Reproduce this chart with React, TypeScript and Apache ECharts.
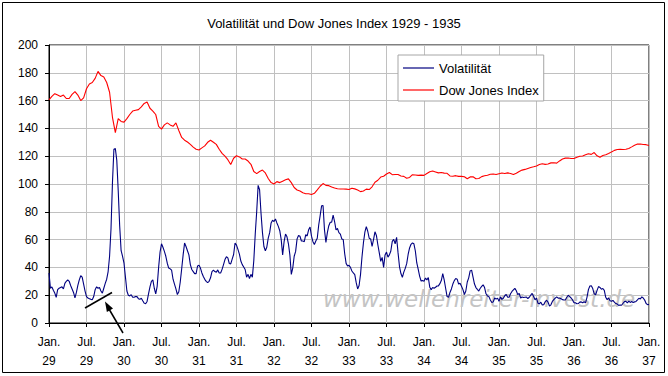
import React, { useEffect, useRef } from "react";
import * as echarts from "echarts";

const TITLE = "Volatilität und Dow Jones Index 1929 - 1935";
const SERIES_NAMES = ["Volatilität", "Dow Jones Index"];
const WATERMARK = "www.wellenreiter-invest.de";

// x-axis tick labels, one per half year (Jan. 1929 .. Jan. 1937)
const X_TICK_LABELS = [
  "Jan.\n29", "Jul.\n29", "Jan.\n30", "Jul.\n30", "Jan.\n31", "Jul.\n31",
  "Jan.\n32", "Jul.\n32", "Jan.\n33", "Jul.\n33", "Jan.\n34", "Jul.\n34",
  "Jan.\n35", "Jul.\n35", "Jan.\n36", "Jul.\n36", "Jan.\n37",
];

// Volatility, weekly readings from Jan. 1929 (26 per half year)
const VOL_PER_HALF_YEAR = 26;
const volatility = [
  36, 25, 26, 23.5, 21.5, 18.5, 24, 25, 25.5, 26,
  24.5, 28.5, 30, 31, 30, 27, 24.5, 22, 18, 22,
  27, 31, 34, 33, 28, 23, 19, 18, 17.5, 17,
  16.8, 19, 24, 26, 25, 25.5, 23, 21.5, 25, 28.5,
  31.5, 37, 48, 68, 101, 125, 125.5, 117, 95, 70,
  52, 48, 43, 33, 23, 20, 19.5, 20.4, 18.5, 18.5,
  19, 19, 17.5, 17, 17.8, 16, 14.3, 13.8, 15.5, 21,
  26, 30, 31, 25, 21, 26.4, 40, 51, 57, 54.5,
  51.5, 48, 43, 39.5, 39, 38, 31.5, 28, 24.5, 20.5,
  22.5, 29.5, 39, 49, 57.5, 55, 52, 49, 42, 38.5,
  37, 35.5, 35.5, 41, 41.5, 39.5, 36, 33.4, 31.4, 30,
  29, 30, 32.5, 37, 38, 37, 36.5, 38.2, 36, 36,
  38.6, 42, 45.6, 47.7, 46.8, 42.8, 42.5, 46, 49.3, 57.5,
  56, 53, 49.6, 44.6, 42, 40.3, 38.5, 33, 35, 32,
  35, 33, 45, 64, 80, 99, 96, 79, 65, 55,
  52, 54.5, 61, 65, 72, 74, 73, 74.8, 72, 69.5,
  66.4, 60, 49, 58.5, 64, 62, 57, 49, 35, 39.5,
  48, 51.5, 60.5, 63, 62.4, 59, 59, 58.5, 63.5, 62.6,
  67, 69, 62.5, 58.5, 56.5, 59, 61, 70.5, 77.3, 84.3,
  84.5, 67, 58, 65, 70, 72.5, 72.5, 77.7, 73, 67,
  68, 65, 64, 60.5, 60, 50, 42.9, 41, 41.5, 40,
  37.4, 36, 34.8, 29, 24.5, 27, 35, 47.5, 57.6, 65.3,
  69.3, 66, 61, 60.5, 55.2, 60, 65.6, 63, 56.3, 50.5,
  44.4, 47.2, 40, 49, 51, 47.4, 49, 51.8, 58.7, 60.2,
  57, 61.6, 50.6, 40.6, 35.6, 32.8, 36.6, 39.3, 42.7, 49.3,
  54, 56.6, 57.6, 57, 51.8, 43.2, 38.6, 33.6, 30.2, 30.5,
  30.1, 32.3, 31, 32.7, 25.7, 24, 25.5, 25, 25.7, 26.6,
  26.7, 28.3, 30.5, 35.6, 31, 25, 19, 18.5, 22, 24.5,
  28, 30.5, 32, 31.5, 28, 28.6, 26.5, 24, 20.5, 23,
  29.5, 32.5, 37.5, 38, 33, 28, 25.5, 24.2, 23, 25,
  26.3, 27.5, 25.5, 21, 19.5, 19, 16.5, 14.7, 15.2, 18,
  17.2, 17.9, 15.6, 18.8, 17, 17.8, 19.6, 20.5, 18.5, 18.5,
  21, 22.7, 23.8, 24.9, 23.2, 20.4, 21.3, 18, 18.7, 18.3,
  18.5, 18.6, 17.6, 18.5, 20, 21.3, 19.1, 16.7, 18, 14.2,
  13.8, 15, 13, 13.2, 15.2, 16.4, 15, 12.2, 13.1, 15.5,
  16.8, 17.9, 18.8, 17.9, 18, 17.5, 16.8, 16.5, 16.6, 18.5,
  20, 19, 18, 16.6, 14.6, 14.5, 13.9, 14, 15, 15.2,
  14.6, 15.3, 14.5, 18.5, 24, 26.6, 26.8, 24.8, 21, 20.3,
  23.5, 26.2, 25.6, 24.3, 24.8, 23.5, 18.5, 16.8, 18, 16,
  15.6, 16.2, 15, 14, 13.6, 12.7, 13, 12.8, 14.2, 15.4,
  15.6, 14.5, 15.8, 14.8, 15.5, 14.8, 15.2, 15.5, 16.6, 17.8,
  17.3, 18.8, 18, 16.5, 14, 13.2, 13.3,
];

// Dow Jones Index, bi-weekly readings from Jan. 1929 (13 per half year)
const DOW_PER_HALF_YEAR = 13;
const dowJones = [
  160.5, 163, 165, 164, 163, 164, 161.5, 161.5, 164.5, 166.5,
  164, 160, 162, 168.5, 172, 173, 176, 181, 178, 177,
  173, 166, 148, 137, 147, 145, 144.5, 147, 150, 152.5,
  153, 153.5, 155.5, 158, 159, 154.5, 152.5, 150, 141.5, 139.5,
  142.5, 144, 142.5, 141.5, 144, 138.5, 133.5, 131.5, 130.2, 128.5,
  126.5, 125, 124.5, 126, 127.4, 130, 131.5, 130, 128.5, 125,
  122, 120, 117.5, 114, 118.5, 120.3, 119.5, 118, 118, 116.5,
  114.2, 109, 107.5, 109, 110, 108, 104, 101, 100, 101.7,
  101, 102, 103, 103.7, 101, 97.5, 95.7, 94.9, 93.7, 93,
  93, 92.4, 93.3, 95.8, 98.4, 100.3, 99, 98.8, 97.9, 97.1,
  96.6, 96.4, 96.4, 96.3, 96, 97, 96.5, 95.7, 94.5, 95,
  96.3, 96, 98, 101.3, 102.7, 105, 105.6, 107.2, 108.3, 106.7,
  106.8, 106.8, 105.7, 105.5, 104.1, 104.7, 106.7, 106.5, 106.2, 106.4,
  106.2, 107.5, 108.8, 109.4, 108.7, 108, 108.3, 107.8, 107.7, 105.8,
  105.6, 106, 105.5, 105.5, 105.2, 103.8, 105.1, 105.2, 103.8, 104,
  105.3, 105.9, 106.3, 107, 107.2, 106.8, 107.4, 107.9, 107.5, 108,
  107.6, 106.9, 107.8, 109, 110, 110.5, 111.2, 111.9, 112.4, 113,
  114, 114.6, 114.1, 114.4, 115.2, 115.3, 115, 116.6, 118, 118.6,
  118.7, 118.3, 118.3, 119.2, 120, 120.1, 121, 121.8, 121.3, 122.6,
  120.3, 119.2, 120.5, 121, 121.9, 123.1, 124.2, 124.8, 124.9, 124.8,
  125, 125.6, 126.7, 127.9, 128.7, 128.8, 128.4, 128.3, 127.7,
];

const FONT = '"Liberation Sans", Arial, Helvetica, sans-serif';

export default function App() {
  const ref = useRef<HTMLDivElement>(null);

  useEffect(() => {
    if (!ref.current) return;
    const chart = echarts.init(ref.current, undefined, { renderer: "svg" });
    chart.setOption({
      animation: false,
      backgroundColor: "#ffffff",
      textStyle: { fontFamily: FONT },
      title: {
        text: TITLE,
        left: "center",
        top: 12,
        textStyle: { fontSize: 13, fontWeight: "normal", color: "#000", fontFamily: FONT },
      },
      grid: {
        left: 49,
        right: 19,
        top: 45,
        bottom: 53,
        show: true,
        borderColor: "#000",
        borderWidth: 1,
        backgroundColor: "transparent",
      },
      legend: {
        orient: "vertical",
        left: 398,
        top: 55,
        icon: "rect",
        itemWidth: 31,
        itemHeight: 1.2,
        itemGap: 6,
        padding: [5, 5, 3, 5],
        borderColor: "#a6a6a6",
        borderWidth: 1,
        backgroundColor: "#fff",
        textStyle: { fontSize: 13, color: "#000", lineHeight: 16, fontFamily: FONT },
        data: SERIES_NAMES,
      },
      xAxis: {
        type: "value",
        min: 0,
        max: X_TICK_LABELS.length - 1,
        interval: 1,
        axisLine: { lineStyle: { color: "#000", width: 1 } },
        axisTick: { show: true, length: 4, lineStyle: { color: "#000" } },
        axisLabel: {
          formatter: (v: number) => X_TICK_LABELS[Math.round(v)] ?? "",
          color: "#000",
          fontSize: 12,
          lineHeight: 19,
          margin: 9,
          fontFamily: FONT,
        },
        splitLine: { show: true, lineStyle: { color: "#c0c0c0", width: 1 } },
      },
      yAxis: {
        type: "value",
        min: 0,
        max: 200,
        interval: 20,
        axisLine: { show: true, lineStyle: { color: "#000", width: 1 } },
        axisTick: { show: true, length: 4, lineStyle: { color: "#000" } },
        axisLabel: { color: "#000", fontSize: 12, margin: 11, fontFamily: FONT },
        splitLine: { show: true, lineStyle: { color: "#c0c0c0", width: 1 } },
      },
      series: [
        {
          name: SERIES_NAMES[0],
          type: "line",
          data: volatility.map((v, j) => [j / VOL_PER_HALF_YEAR, v]),
          showSymbol: false,
          symbol: "none",
          lineStyle: { color: "#000080", width: 1.1 },
          itemStyle: { color: "#000080" },
          z: 3,
        },
        {
          name: SERIES_NAMES[1],
          type: "line",
          data: dowJones.map((v, i) => [i / DOW_PER_HALF_YEAR, v]),
          showSymbol: false,
          symbol: "none",
          lineStyle: { color: "#ff0000", width: 1.1 },
          itemStyle: { color: "#ff0000" },
          z: 3,
        },
      ],
      graphic: [
        {
          type: "text",
          z: 1,
          x: 323,
          y: 299,
          style: {
            text: WATERMARK,
            font: 'italic 23px "DejaVu Sans", sans-serif',
            fill: "#c4c4c4",
            textAlign: "left",
            textVerticalAlign: "middle",
            align: "left",
            verticalAlign: "middle",
          },
        },
        {
          type: "line",
          z: 10,
          shape: { x1: 85, y1: 308, x2: 112, y2: 292.5 },
          style: { stroke: "#000", lineWidth: 1.5 },
        },
        {
          type: "line",
          z: 10,
          shape: { x1: 123, y1: 333, x2: 109, y2: 309 },
          style: { stroke: "#000", lineWidth: 1.5 },
        },
        {
          type: "polygon",
          z: 10,
          shape: { points: [[105, 301.5], [113, 308.4], [106.9, 311.9]] },
          style: { fill: "#000" },
        },
        {
          type: "rect",
          z: 10,
          shape: { x: 2.5, y: 2.5, width: 662, height: 370 },
          style: { fill: "none", stroke: "#000", lineWidth: 1 },
        },
      ],
    });
    return () => chart.dispose();
  }, []);

  return (
    <div
      ref={ref}
      style={{ position: "absolute", left: 0, top: 0, width: 668, height: 376 }}
    />
  );
}
